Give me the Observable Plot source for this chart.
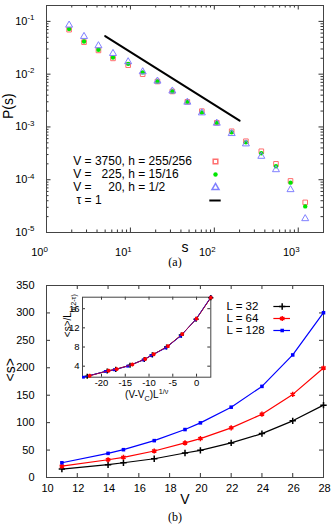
<!DOCTYPE html>
<html><head><meta charset="utf-8">
<script src="https://cdn.jsdelivr.net/npm/d3@7"></script>
<script src="https://cdn.jsdelivr.net/npm/@observablehq/plot@0.6"></script>
<style>
html,body{margin:0;padding:0;background:#fff;}
#chart{position:relative;width:332px;height:528px;overflow:hidden;background:#fff;}
#chart svg{position:absolute;}
</style></head><body><div id="chart"></div>
<script>
// ---------- Panel (a) data ----------
const sizes   = [1.86, 2.8, 4.16, 6.2, 9.4, 14, 21, 31.6, 47.7, 71, 107, 161, 238, 363, 543, 809, 1211];
const pV3750  = [0.0696, 0.0404, 0.0282, 0.0199, 0.0148, 0.0100, 0.00726, 0.0047, 0.00299, 0.00199, 0.00120, 0.000828, 0.000536, 0.000346, 0.000200, 0.0000949, 0.0000372];
const pV225   = [0.0715, 0.0417, 0.0290, 0.0207, 0.0157, 0.0108, 0.00726, 0.0047, 0.00299, 0.00188, 0.00120, 0.000793, 0.000513, 0.000317, 0.000180, 0.0000881, 0.0000312];
const pV20    = [0.0851, 0.0519, 0.0346, 0.0247, 0.0172, 0.0111, 0.0074, 0.0048, 0.00295, 0.00185, 0.00118, 0.00075, 0.000478, 0.000278, 0.000155, 0.0000649, 0.0000183];
const tauLineS = [5, 200];
const tauLineP = [0.0526, 0.001315];
const legendA = ["V\u00a0=\u00a03750,\u00a0h\u00a0=\u00a0255/256", "V\u00a0=\u00a0\u00a0\u00a0225,\u00a0h\u00a0=\u00a015/16", "V\u00a0=\u00a0\u00a0\u00a0\u00a0\u00a020,\u00a0h\u00a0=\u00a01/2", "\u00a0τ\u00a0=\u00a01"];
const xTicksA = [1, 10, 100, 1000];
const yTicksA = [1e-5, 1e-4, 1e-3, 1e-2, 1e-1];

// ---------- Panel (b) data ----------
const volumes  = [11, 14, 15, 17, 19, 20, 22, 24, 26, 28];
const meanL32  = [15.4, 23.3, 26.9, 34.2, 44.7, 49.5, 63, 80, 103.3, 131.9];
const meanL64  = [20.8, 32.4, 36.6, 48.3, 63, 70.9, 90.5, 115.4, 151.5, 199.6];
const meanL128 = [26.9, 44, 50.7, 67.2, 87.4, 99.6, 128.2, 166.1, 223.4, 300.4];
const legendB = ["L = 32", "L = 64", "L = 128"];
const xTicksB = [10, 12, 14, 16, 18, 20, 22, 24, 26, 28];
const yTicksB = [0, 50, 100, 150, 200, 250, 300, 350];

// ---------- Inset data ----------
const inset32X  = [-23, -18.8, -17, -14, -11, -9.3, -6.3, -3.2, -0.1, 3.0];
const inset32Y  = [1.9, 3.0, 3.35, 4.2, 5.4, 6.35, 8.0, 10.5, 13.8, 18.3];
const inset64X  = [-22.5, -18.5, -16.8, -13.5, -10.8, -9.0, -6.0, -3.0, 0.0, 3.0];
const inset64Y  = [2.0, 3.05, 3.4, 4.35, 5.5, 6.5, 8.2, 10.7, 13.9, 18.3];
const inset128X = [-23.8, -19.2, -17.3, -14.5, -11.2, -9.6, -6.5, -3.4, -0.2, 3.0];
const inset128Y = [1.7, 2.9, 3.25, 4.0, 5.3, 6.2, 7.8, 10.25, 13.7, 18.4];
const xTicksInset = [-20, -15, -10, -5, 0];
const yTicksInset = [4, 8, 12, 16];

// ---------- helpers ----------
const SANS = "'Liberation Sans', Arial, Helvetica, sans-serif";
const SERIF = "'Liberation Serif', 'Times New Roman', serif";
const TICK = "#333";
const pow10 = d => `10^{${Math.round(Math.log10(d))}}`;
function ticksX(vals, len, ih) {
  return [Plot.ruleX(vals, {x: d => d, insetTop: ih - len, stroke: TICK}),
          Plot.ruleX(vals, {x: d => d, insetBottom: ih - len, stroke: TICK})];
}
function ticksY(vals, len, iw) {
  return [Plot.ruleY(vals, {y: d => d, insetRight: iw - len, stroke: TICK}),
          Plot.ruleY(vals, {y: d => d, insetLeft: iw - len, stroke: TICK})];
}
function rich(el, str, fs, flip) {
  const toks = []; let i = 0, buf = "";
  while (i < str.length) {
    const c = str[i];
    if ((c === "^" || c === "_") && str[i + 1] === "{") {
      if (buf) { toks.push({t: buf, s: 0}); buf = ""; }
      const j = str.indexOf("}", i);
      toks.push({t: str.slice(i + 2, j), s: c === "^" ? 1 : -1});
      i = j + 1;
    } else { buf += c; i++; }
  }
  if (buf) toks.push({t: buf, s: 0});
  while (el.firstChild) el.removeChild(el.firstChild);
  let cur = 0;
  for (const tk of toks) {
    const ts = document.createElementNS("http://www.w3.org/2000/svg", "tspan");
    let target = tk.s === 1 ? -0.42 * fs : tk.s === -1 ? 0.28 * fs : 0;
    if (flip && tk.s === 1) target = 0.5 * fs;
    ts.setAttribute("dy", (target - cur).toFixed(2)); cur = target;
    if (tk.s) ts.setAttribute("font-size", (0.72 * fs).toFixed(2));
    ts.textContent = tk.t;
    el.appendChild(ts);
  }
}
function richAll(svg) {
  svg.querySelectorAll("text").forEach(t => {
    const s = t.textContent;
    if (/[\^_]\{/.test(s)) {
      const fs = parseFloat(t.getAttribute("font-size") || t.parentNode.getAttribute("font-size") || "11");
      rich(t, s, fs, s.startsWith("<s>/L"));
    }
  });
}
function place(svg, left, top) {
  svg.style.left = left + "px"; svg.style.top = top + "px";
  document.getElementById("chart").appendChild(svg);
  richAll(svg);
}

// ---------- Panel (a) ----------
const rowsA = sizes.map((s, i) => ({s, p3750: pV3750[i], p225: pV225[i], p20: pV20[i]}));
const tauRows = tauLineS.map((s, i) => ({s, p: tauLineP[i]}));
const minorAx = [], minorAy = [];
for (let e = 0; e <= 3; e++) for (let m = 2; m <= 9; m++) { const v = m * 10 ** e; if (v <= 2000) minorAx.push(v); }
for (let e = -5; e <= -1; e++) for (let m = 2; m <= 9; m++) { const v = m * 10 ** e; if (v <= 0.2) minorAy.push(v); }
const hA = 268, mlA = 46, mrA = 9, mtA = 5, mbA = 36;
const iwA = 332 - mlA - mrA, ihA = hA - mtA - mbA;
const plotA = Plot.plot({
  width: 332, height: hA, marginLeft: mlA, marginRight: mrA, marginTop: mtA, marginBottom: mbA,
  style: {background: "transparent", fontFamily: SANS, color: "#000"},
  x: {type: "log", domain: [1, 2000], axis: null},
  y: {type: "log", domain: [1e-5, 0.2], axis: null},
  marks: [
    ...ticksX(minorAx, 2.5, ihA), ...ticksX(xTicksA, 4.5, ihA),
    ...ticksY(minorAy, 2.5, iwA), ...ticksY(yTicksA, 4.5, iwA),
    Plot.frame({stroke: "#444"}),
    Plot.axisX({ticks: xTicksA, tickFormat: pow10, tickSize: 0, tickPadding: 16, dx: -7, fontSize: 11, label: null}),
    Plot.axisY({ticks: yTicksA, tickFormat: pow10, tickSize: 0, tickPadding: 12, fontSize: 11, label: null}),
    Plot.line(tauRows, {x: "s", y: "p", stroke: "#000", strokeWidth: 2}),
    Plot.dot(rowsA, {x: "s", y: "p3750", symbol: "square", r: 2.6, stroke: "#ff6f6f", fill: "none", strokeWidth: 1}),
    Plot.dot(rowsA, {x: "s", y: "p225", symbol: "circle", r: 2.2, fill: "#00e600"}),
    Plot.dot(rowsA, {x: "s", y: "p20", symbol: "triangle", r: 2.6, stroke: "#8080ff", fill: "none", strokeWidth: 1}),
    Plot.text(["s"], {text: d => d, frameAnchor: "bottom", dy: 19, fontSize: 14}),
    Plot.text(["P(s)"], {text: d => d, frameAnchor: "left", dx: -38, rotate: -90, fontSize: 14}),
    Plot.text(["(a)"], {text: d => d, frameAnchor: "bottom", dx: -10, dy: 33, fontSize: 12, fontFamily: SERIF})
  ]
});
place(plotA, 0, 0);

const legA = Plot.plot({
  width: 160, height: 56, margin: 0,
  style: {background: "transparent", fontFamily: SANS, color: "#000"},
  x: {domain: [0, 1], range: [6.7, 149], axis: null},
  y: {type: "point", padding: 0, domain: legendA, range: [7, 46.7], axis: null},
  marks: [
    Plot.text(legendA, {x: () => 0, y: d => d, text: d => d, textAnchor: "start", fontSize: 12}),
    Plot.dot([legendA[0]], {x: () => 1, y: d => d, symbol: "square", r: 2.6, stroke: "#ff6f6f", fill: "none"}),
    Plot.dot([legendA[1]], {x: () => 1, y: d => d, symbol: "circle", r: 2.2, fill: "#00e600"}),
    Plot.dot([legendA[2]], {x: () => 1, y: d => d, symbol: "triangle", r: 2.6, stroke: "#8080ff", fill: "none"}),
    Plot.ruleY([legendA[3]], {y: d => d, x1: () => 0.96, x2: () => 1.04, stroke: "#000", strokeWidth: 2})
  ]
});
place(legA, 66, 154);

// ---------- Panel (b) ----------
const rowsB = volumes.map((V, i) => ({V, a: meanL32[i], b: meanL64[i], c: meanL128[i]}));
const hB = 260, mlB = 46, mrB = 9, mtB = 17, mbB = 51;
const iwB = 332 - mlB - mrB, ihB = hB - mtB - mbB;
const plotB = Plot.plot({
  width: 332, height: hB, marginLeft: mlB, marginRight: mrB, marginTop: mtB, marginBottom: mbB,
  style: {background: "transparent", fontFamily: SANS, color: "#000"},
  x: {domain: [10, 28], axis: null},
  y: {domain: [0, 350], axis: null},
  marks: [
    ...ticksX(xTicksB, 4, ihB), ...ticksY(yTicksB, 4, iwB),
    Plot.frame({stroke: "#444"}),
    Plot.axisX({ticks: xTicksB, tickFormat: d => String(d), tickSize: 0, tickPadding: 7, dx: 1, fontSize: 11, label: null}),
    Plot.axisY({ticks: yTicksB, tickFormat: d => String(d), tickSize: 0, tickPadding: 12, fontSize: 11, label: null}),
    Plot.line(rowsB, {x: "V", y: "a", stroke: "#000", strokeWidth: 1.2}),
    Plot.dot(rowsB, {x: "V", y: "a", symbol: "plus", r: 2.2, stroke: "#000"}),
    Plot.line(rowsB, {x: "V", y: "b", stroke: "#ff0000", strokeWidth: 1.2}),
    Plot.dot(rowsB, {x: "V", y: "b", symbol: "asterisk", r: 2.4, stroke: "#ff0000"}),
    Plot.line(rowsB, {x: "V", y: "c", stroke: "#0000ff", strokeWidth: 1.2}),
    Plot.dot(rowsB, {x: "V", y: "c", symbol: "square", r: 2, fill: "#0000ff"}),
    Plot.text(["V"], {text: d => d, frameAnchor: "bottom", dy: 26, fontSize: 14}),
    Plot.text(["<s>"], {text: d => d, frameAnchor: "left", dx: -36, rotate: -90, fontSize: 14}),
    Plot.text(["(b)"], {text: d => d, frameAnchor: "bottom", dx: -10, dy: 43, fontSize: 12, fontFamily: SERIF})
  ]
});
place(plotB, 0, 268);

const legB = Plot.plot({
  width: 80, height: 40, margin: 0,
  style: {background: "transparent", fontFamily: SANS, color: "#000"},
  x: {domain: [0, 1], range: [6, 70], axis: null},
  y: {type: "point", padding: 0, domain: legendB, range: [8, 32.7], axis: null},
  marks: [
    Plot.text(legendB, {x: () => 0, y: d => d, text: d => d, textAnchor: "start", fontSize: 11.5}),
    Plot.ruleY([legendB[0]], {y: d => d, x1: () => 0.74, x2: () => 1, stroke: "#000", strokeWidth: 1.2}),
    Plot.dot([legendB[0]], {x: () => 0.87, y: d => d, symbol: "plus", r: 2.2, stroke: "#000"}),
    Plot.ruleY([legendB[1]], {y: d => d, x1: () => 0.74, x2: () => 1, stroke: "#ff0000", strokeWidth: 1.2}),
    Plot.dot([legendB[1]], {x: () => 0.87, y: d => d, symbol: "asterisk", r: 2.4, stroke: "#ff0000"}),
    Plot.ruleY([legendB[2]], {y: d => d, x1: () => 0.74, x2: () => 1, stroke: "#0000ff", strokeWidth: 1.2}),
    Plot.dot([legendB[2]], {x: () => 0.87, y: d => d, symbol: "square", r: 2, fill: "#0000ff"})
  ]
});
place(legB, 220, 298);

// ---------- Inset ----------
const r32 = inset32X.map((x, i) => ({x, y: inset32Y[i]}));
const r64 = inset64X.map((x, i) => ({x, y: inset64Y[i]}));
const r128 = inset128X.map((x, i) => ({x, y: inset128Y[i]}));
const wI = 162, hI = 110, mlI = 30, mtI = 4.7, iwI = 128.3, ihI = 80;
const plotI = Plot.plot({
  width: wI, height: hI, marginLeft: mlI, marginRight: wI - mlI - iwI, marginTop: mtI, marginBottom: hI - mtI - ihI,
  style: {background: "transparent", fontFamily: SANS, color: "#000"},
  x: {domain: [-24, 3], axis: null},
  y: {domain: [1.7, 18.4], axis: null},
  marks: [
    Plot.frame({fill: "#fff", stroke: "none"}),
    ...ticksX(xTicksInset, 3, ihI), ...ticksY(yTicksInset, 3, iwI),
    Plot.frame({stroke: "#444"}),
    Plot.axisX({ticks: xTicksInset, tickFormat: d => String(d), tickSize: 0, tickPadding: 2, fontSize: 9.5, label: null}),
    Plot.axisY({ticks: yTicksInset, tickFormat: d => String(d), tickSize: 0, tickPadding: 3, fontSize: 9.5, label: null}),
    Plot.line(r32, {x: "x", y: "y", stroke: "#000", strokeWidth: 1}),
    Plot.dot(r32, {x: "x", y: "y", symbol: "plus", r: 1.8, stroke: "#000"}),
    Plot.line(r128, {x: "x", y: "y", stroke: "#0000ff", strokeWidth: 1}),
    Plot.dot(r128, {x: "x", y: "y", symbol: "square", r: 1.6, fill: "#0000ff"}),
    Plot.line(r64, {x: "x", y: "y", stroke: "#ff0000", strokeWidth: 0.8, strokeOpacity: 0.8}),
    Plot.dot(r64, {x: "x", y: "y", symbol: "asterisk", r: 1.8, stroke: "#ff0000"}),
    Plot.text(["<s>/L^{d(2-τ)}"], {text: d => d, frameAnchor: "left", dx: -15, rotate: -90, fontSize: 10}),
    Plot.text(["(V-V_{C})L^{1/ν}"], {text: d => d, frameAnchor: "bottom", dy: 21, fontSize: 10})
  ]
});
place(plotI, 52, 292);
</script></body></html>
